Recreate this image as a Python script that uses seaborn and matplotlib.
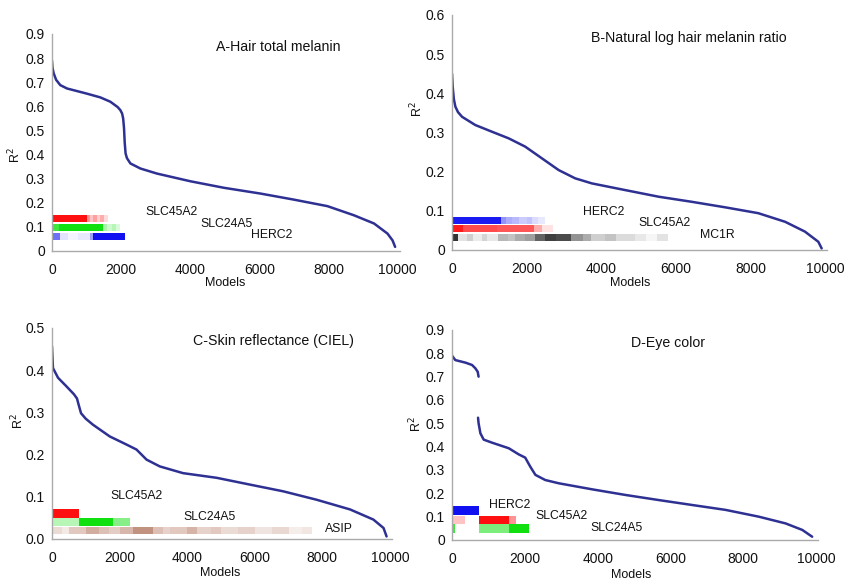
import matplotlib
import matplotlib.pyplot as plt
import pandas as pd
import seaborn as sns
from matplotlib.colors import LinearSegmentedColormap

matplotlib.use('agg')

# sorted R2 curves (model rank, R2)
a_x = [0, 15, 50, 120, 240, 435, 1000, 1400, 1690, 1900, 1980, 2030, 2060, 2085, 2105, 2130,
       2170, 2270, 2560, 3040, 4010, 4980, 6040, 7000, 7970, 8740, 9320, 9710, 9855, 9930]
a_y = [0.79, 0.76, 0.737, 0.71, 0.688, 0.674, 0.653, 0.637, 0.619, 0.597, 0.584, 0.57, 0.55,
       0.51, 0.45, 0.405, 0.385, 0.363, 0.342, 0.321, 0.289, 0.262, 0.238, 0.213, 0.186,
       0.148, 0.114, 0.072, 0.044, 0.017]

b_x = [0, 18, 50, 90, 160, 270, 625, 1070, 1520, 1960, 2410, 2860, 3300, 3750, 4640, 5540,
       6430, 7320, 8210, 8930, 9460, 9820, 9910]
b_y = [0.45, 0.417, 0.385, 0.366, 0.352, 0.34, 0.319, 0.302, 0.285, 0.264, 0.234, 0.204,
       0.183, 0.170, 0.153, 0.136, 0.123, 0.109, 0.094, 0.072, 0.047, 0.021, 0.004]

c_x = [0, 30, 180, 425, 650, 740, 790, 860, 1000, 1210, 1710, 2200, 2500, 2800, 3190, 3880,
       4870, 5850, 6840, 7830, 8820, 9510, 9810, 9900]
c_y = [0.457, 0.405, 0.382, 0.362, 0.343, 0.333, 0.318, 0.298, 0.285, 0.271, 0.243, 0.224,
       0.212, 0.188, 0.172, 0.156, 0.145, 0.129, 0.113, 0.093, 0.070, 0.046, 0.026, 0.006]

d1_x = [0, 90, 370, 550, 640, 705, 730]
d1_y = [0.79, 0.771, 0.760, 0.75, 0.736, 0.721, 0.70]
d2_x = [715, 730, 780, 870, 1100, 1560, 1830, 2010, 2150, 2290, 2560, 2930, 3850, 4760,
        5680, 6590, 7510, 8420, 9160, 9620, 9890]
d2_y = [0.524, 0.50, 0.457, 0.43, 0.417, 0.393, 0.367, 0.353, 0.314, 0.279, 0.257, 0.243,
        0.217, 0.193, 0.171, 0.15, 0.129, 0.10, 0.071, 0.043, 0.014]

# gene strips: model-rank breakpoints and shading level between them
a_slc45a2 = ([0, 1000, 1100, 1200, 1300, 1400, 1500, 1620],
             [1, 0.45, 0.25, 0.4, 0.2, 0.35, 0.15])
a_slc24a5 = ([0, 200, 1480, 1600, 1750, 1850, 1960], [0.8, 1, 0.35, 0.2, 0.3, 0.15])
a_herc2 = ([0, 220, 450, 750, 1100, 1190, 2125], [0.6, 0.12, 0.05, 0.1, 0.4, 1])

b_herc2 = ([0, 1300, 1450, 1600, 1800, 2000, 2150, 2300, 2500],
           [0.95, 0.45, 0.35, 0.3, 0.22, 0.25, 0.15, 0.1])
b_slc45a2 = ([0, 300, 1200, 2200, 2400, 2700], [0.95, 0.75, 0.7, 0.35, 0.12])
b_mc1r = ([0, 160, 400, 550, 800, 950, 1230, 1500, 1700, 1960, 2230, 2500, 2800, 3190, 3500,
           3730, 4100, 4400, 4900, 5200, 5500, 5800],
          [0.85, 0.12, 0.2, 0.08, 0.18, 0.1, 0.3, 0.25, 0.35, 0.4, 0.65, 0.8, 0.75, 0.45, 0.35,
           0.2, 0.25, 0.15, 0.1, 0.04, 0.12])

c_slc45a2 = ([0, 800], [1])
c_slc24a5 = ([0, 800, 1800, 2300], [0.3, 1, 0.5])
c_asip = ([0, 300, 500, 1000, 1400, 1700, 2000, 2400, 3000, 3300, 3500, 4000, 4300, 4700, 5000,
           5500, 6000, 6500, 7000, 7400, 7700],
          [0.2, 0.12, 0.3, 0.45, 0.35, 0.28, 0.4, 0.6, 0.35, 0.25, 0.3, 0.42, 0.25, 0.3, 0.2,
           0.25, 0.15, 0.22, 0.1, 0.14])

d_herc2 = ([0, 730], [1])
d_slc45a2 = ([0, 370, 733, 1557, 1760], [0.25, 0, 1, 0.45])
d_slc24a5 = ([0, 90, 733, 1557, 2125], [0.8, 0, 0.55, 1])

titles = ["A-Hair total melanin", "B-Natural log hair melanin ratio",
          "C-Skin reflectance (CIEL)", "D-Eye color"]
x_ticks = [0, 2000, 4000, 6000, 8000, 10000]
a_yticks = ["0", "0.1", "0.2", "0.3", "0.4", "0.5", "0.6", "0.7", "0.8", "0.9"]
b_yticks = ["0", "0.1", "0.2", "0.3", "0.4", "0.5", "0.6"]
c_yticks = ["0.0", "0.1", "0.2", "0.3", "0.4", "0.5"]
d_yticks = ["0", "0.1", "0.2", "0.3", "0.4", "0.5", "0.6", "0.7", "0.8", "0.9"]

sns.set_style('white')
plt.rcParams['font.family'] = ['Liberation Sans', 'DejaVu Sans']

line_color = '#2e3192'
red, green, blue, black, brown = '#ff1010', '#10e010', '#1010f0', '#101010', '#9a4a2c'

fig = plt.figure(figsize=(8.49, 5.83), dpi=100)

panels = [
    dict(rect=[0.0612, 0.5695, 0.4095, 0.3722], curves=[(a_x, a_y)], yticks=a_yticks,
         strips=[(a_slc45a2, red, 0.12, 0.149), (a_slc24a5, green, 0.081, 0.112),
                 (a_herc2, blue, 0.046, 0.076)],
         labels=[("SLC45A2", 2700, 0.16), ("SLC24A5", 4290, 0.11), ("HERC2", 5760, 0.068)],
         title_pos=(0.65, 0.94), ylab=(-0.105, 0.44), xlab=(0.497, -0.147)),
    dict(rect=[0.5324, 0.5712, 0.4420, 0.4031], curves=[(b_x, b_y)], yticks=b_yticks,
         strips=[(b_herc2, blue, 0.066, 0.085), (b_slc45a2, red, 0.047, 0.064),
                 (b_mc1r, black, 0.023, 0.040)],
         labels=[("HERC2", 3510, 0.098), ("SLC45A2", 5010, 0.07), ("MC1R", 6650, 0.038)],
         title_pos=(0.63, 0.90), ylab=(-0.093, 0.6), xlab=(0.476, -0.14)),
    dict(rect=[0.0612, 0.0755, 0.4005, 0.3619], curves=[(c_x, c_y)], yticks=c_yticks,
         strips=[(c_slc45a2, red, 0.050, 0.071), (c_slc24a5, green, 0.031, 0.049),
                 (c_asip, brown, 0.011, 0.029)],
         labels=[("SLC45A2", 1716, 0.101), ("SLC24A5", 3880, 0.052), ("ASIP", 8080, 0.024)],
         title_pos=(0.65, 0.94), ylab=(-0.1, 0.56), xlab=(0.496, -0.161)),
    dict(rect=[0.5324, 0.0738, 0.4315, 0.3602], curves=[(d1_x, d1_y), (d2_x, d2_y)],
         yticks=d_yticks,
         strips=[(d_herc2, blue, 0.107, 0.145), (d_slc45a2, red, 0.07, 0.104),
                 (d_slc24a5, green, 0.03, 0.067)],
         labels=[("HERC2", 1010, 0.15), ("SLC45A2", 2280, 0.103), ("SLC24A5", 3790, 0.05)],
         title_pos=(0.59, 0.94), ylab=(-0.098, 0.55), xlab=(0.489, -0.167)),
]

for title, p in zip(titles, panels):
    ax = fig.add_axes(p['rect'])
    for cx, cy in p['curves']:
        df = pd.DataFrame({'Models': cx, 'R2': cy})
        sns.lineplot(data=df, x='Models', y='R2', ax=ax, color=line_color, lw=1.8,
                     estimator=None, sort=False)

    for (edges, levels), col, y0, y1 in p['strips']:
        cmap = LinearSegmentedColormap.from_list('s', ['white', col])
        ax.pcolormesh(edges, [y0, y1], [levels], cmap=cmap, vmin=0, vmax=1,
                      shading='flat', zorder=1)

    for name, lx, ly in p['labels']:
        ax.text(lx, ly, name, fontsize=8.8, ha='left', va='center', color='#111111')

    ax.text(*p['title_pos'], title, transform=ax.transAxes, fontsize=10.2, ha='center',
            va='center', color='#111111')

    ymax = float(p['yticks'][-1])
    yt = [i * 0.1 for i in range(len(p['yticks']))]
    ax.set_xlim(0, 10060)
    ax.set_ylim(0, ymax)
    ax.set_xticks(x_ticks)
    ax.set_xticklabels([str(t) for t in x_ticks])
    ax.set_yticks(yt)
    ax.set_yticklabels(p['yticks'])
    ax.tick_params(axis='both', labelsize=10, colors='#999999', labelcolor='#111111',
                   direction='out', length=3, width=1, pad=2)
    ax.tick_params(axis='x', pad=6)

    for s in ['top', 'right']:
        ax.spines[s].set_visible(False)
    for s in ['left', 'bottom']:
        ax.spines[s].set_color('#aaaaaa')
        ax.spines[s].set_linewidth(1.0)

    ax.set_xlabel("Models", fontsize=9, va='center', color='#111111')
    ax.set_ylabel("R$^2$", fontsize=9, va='center', color='#111111')
    ax.xaxis.set_label_coords(*p['xlab'])
    ax.yaxis.set_label_coords(*p['ylab'])

plt.savefig('out.png', dpi=100)
